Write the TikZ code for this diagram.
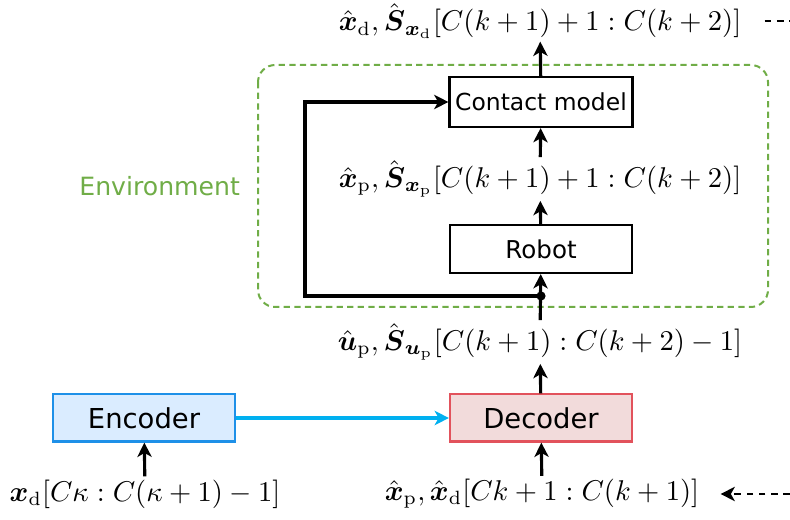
\documentclass[tikz,border=0pt]{standalone}
\usepackage{amsmath,amssymb}
\usepackage{fontspec}
\setsansfont{DejaVu Sans}
\usetikzlibrary{arrows.meta,positioning}
\definecolor{envgreen}{RGB}{112,173,71}
\definecolor{encblue}{RGB}{30,144,232}
\definecolor{encfill}{RGB}{218,236,255}
\definecolor{decred}{RGB}{226,82,92}
\definecolor{decfill}{RGB}{242,219,219}
\definecolor{linkcyan}{RGB}{0,176,240}
\newcommand{\bx}{\boldsymbol{x}}
\newcommand{\bu}{\boldsymbol{u}}
\newcommand{\bS}{\boldsymbol{S}}

\begin{document}
\begin{tikzpicture}[x=.35pt,y=-.35pt,font=\sffamily,
        block/.style={draw,line width=.75pt,minimum width=63.7pt,
          minimum height=17.5pt,inner xsep=2pt,
          font=\sffamily\fontsize{8.2}{10}\selectfont},
        coder/.style={block,minimum height=16.5pt,
          font=\sffamily\fontsize{9.6}{11}\selectfont},
        sig/.style={inner sep=1pt,font=\fontsize{9.6}{11}\selectfont},
        flow/.style={-{Stealth[length=5pt,width=5pt,inset=1.4pt]},
          line width=1.1pt}]
        \useasboundingbox (0,0) rectangle (790,520);

        % Environment: robot and contact model.
        \draw[envgreen,line width=.7pt,dash pattern=on 2.2pt off 1.5pt,
          rounded corners=6pt] (258,65) rectangle (768,307);
        \node[anchor=east,text=envgreen,font=\sffamily\fontsize{8.8}{10}\selectfont]
          (env) at (250,186) {Environment};
        \node[block] (contact) at (541,102) {Contact model};
        \node[block,minimum height=16.8pt,font=\sffamily\fontsize{8.6}{10}\selectfont]
          (robot) at (541,249) {Robot};

        % Signals between the blocks.
        \node[sig] (xdout) at (540,21)
          {$\hat{\bx}_\mathrm{d},\hat{\bS}_{\bx_\mathrm{d}}[C(k+1)+1:C(k+2)]$};
        \node[sig] (xpout) at (540,179)
          {$\hat{\bx}_\mathrm{p},\hat{\bS}_{\bx_\mathrm{p}}[C(k+1)+1:C(k+2)]$};
        \node[sig] (upout) at (540,342)
          {$\hat{\bu}_\mathrm{p},\hat{\bS}_{\bu_\mathrm{p}}[C(k+1):C(k+2)-1]$};

        % Encoder and decoder.
        \node[coder,draw=encblue,fill=encfill] (enc) at (144,418) {Encoder};
        \node[coder,draw=decred,fill=decfill] (dec) at (541,418) {Decoder};
        \node[sig] (xdin) at (145,494)
          {$\bx_\mathrm{d}[C\kappa:C(\kappa+1)-1]$};
        \node[sig] (xpdin) at (542,494)
          {$\hat{\bx}_\mathrm{p},\hat{\bx}_\mathrm{d}[Ck+1:C(k+1)]$};

        \coordinate (tap) at (541,296);
        \coordinate (fb) at (305,296);
        \coordinate (nextout) at (790,21);
        \coordinate (previn) at (790,494);

        \draw[flow] (contact) -- (xdout);
        \draw[flow] (xpout) -- (contact);
        \draw[flow] (robot) -- (xpout);
        \draw[flow] (upout) -- (robot);
        \draw[flow] (tap) -- (fb) |- (contact.west);
        \fill (tap) circle (1.6pt);
        \draw[flow] (dec) -- (upout);
        \draw[flow,linkcyan] (enc) -- (dec);
        \draw[flow] (xdin) -- (enc);
        \draw[flow] (xpdin) -- (dec);
        \draw[line width=.7pt,dash pattern=on 2.3pt off 2pt,shorten <=7pt]
          (xdout.east) -- (nextout);
        \draw[flow,line width=.7pt,dash pattern=on 2.3pt off 2pt,shorten >=6.3pt]
          (previn) -- (xpdin.east);
      \end{tikzpicture}
\end{document}
